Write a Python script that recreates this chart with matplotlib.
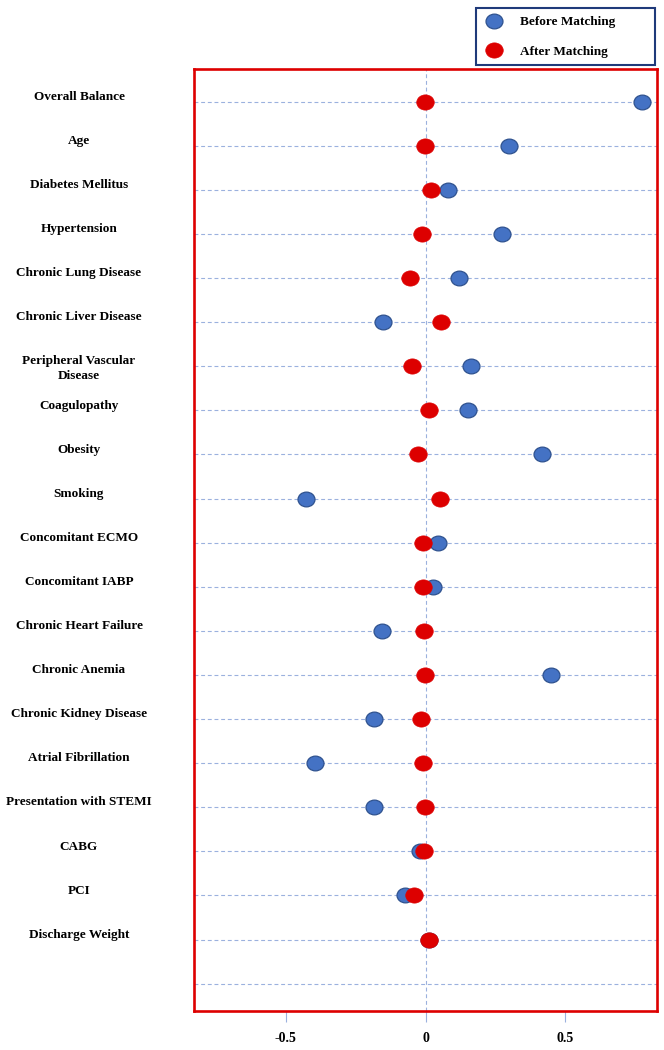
import numpy as np
from matplotlib import pyplot as plt
from matplotlib.path import Path
from matplotlib.transforms import Affine2D, blended_transform_factory

# covariates, top to bottom
categories = ['Overall Balance', 'Age', 'Diabetes Mellitus', 'Hypertension',
              'Chronic Lung Disease', 'Chronic Liver Disease',
              'Peripheral Vascular\nDisease', 'Coagulopathy', 'Obesity', 'Smoking',
              'Concomitant ECMO', 'Concomitant IABP', 'Chronic Heart Failure',
              'Chronic Anemia', 'Chronic Kidney Disease', 'Atrial Fibrillation',
              'Presentation with STEMI', 'CABG', 'PCI', 'Discharge Weight']

# standardized differences
before_matching = [0.772, 0.298, 0.080, 0.273, 0.119, -0.153, 0.163, 0.151, 0.415, -0.428,
                   0.046, 0.026, -0.155, 0.448, -0.183, -0.396, -0.183, -0.021, -0.074, 0.011]
after_matching = [-0.003, -0.003, 0.020, -0.013, -0.054, 0.054, -0.047, 0.014, -0.026, 0.051,
                  -0.010, -0.009, -0.006, -0.002, -0.016, -0.009, -0.002, -0.006, -0.042, 0.014]

xtick_values = [-0.5, 0, 0.5]
xtick_labels = ['-0.5', '0', '0.5']

FONT = ['Liberation Serif', 'DejaVu Serif']
BLUE = '#4472C4'
BLUE_EDGE = '#2F528F'
RED = '#DD0000'
GRID = '#9BB1DE'


def ellipse_marker(ratio=0.87):
    #slightly flattened circle, like the shapes in the original
    return Path.unit_circle().transformed(Affine2D().scale(1.0, ratio))


def main():
    plt.rcParams['font.family'] = FONT
    plt.rcParams['font.weight'] = 'bold'

    fig = plt.figure(figsize=(6.64, 10.5), dpi=100)
    W, H = 664.0, 1050.0
    ax = fig.add_axes([194 / W, 1 - 1011 / H, (657 - 194) / W, (1011 - 69) / H])

    n = len(categories)
    y = np.arange(n)
    marker = ellipse_marker()

    #dashed row lines (one extra empty row at the bottom) and zero line
    ax.set_yticks(np.arange(n + 1))
    ax.grid(axis='y', color=GRID, linestyle=(0, (3.5, 2.5)), linewidth=0.8)
    ax.axvline(0, color=GRID, linestyle=(0, (3.5, 2.5)), linewidth=0.8, zorder=1)
    ax.tick_params(axis='y', left=False, labelleft=False)

    ax.plot(before_matching, y, linestyle='none', marker=marker, ms=12.2,
            mfc=BLUE, mec=BLUE_EDGE, mew=0.9, label='Before Matching', zorder=3)
    ax.plot(after_matching, y, linestyle='none', marker=marker, ms=12.6,
            mfc=RED, mec=RED, mew=0.5, label='After Matching', zorder=4)

    ax.set_xlim(-0.827, 0.827)
    ax.set_ylim(20.62, -0.74)

    ax.set_xticks(xtick_values)
    ax.set_xticklabels(xtick_labels, fontsize=10, fontweight='bold')
    ax.tick_params(axis='x', direction='out', length=8, width=0.8, color=GRID, pad=7)

    for side in ['left', 'right', 'top', 'bottom']:
        ax.spines[side].set_color(RED)
        ax.spines[side].set_linewidth(1.9)

    #category names to the left of the box, first line just above the row line
    trans = blended_transform_factory(fig.transFigure, ax.transData)
    for i, name in enumerate(categories):
        ax.text(79 / W, i - 0.245, name, transform=trans, ha='center', va='top',
                fontsize=9.5, fontweight='bold', linespacing=1.3, clip_on=False)

    handles, labels = ax.get_legend_handles_labels()
    leg = fig.legend(handles, labels, loc='upper left',
                     bbox_to_anchor=(476 / W, 1 - 63 / H, (655 - 476) / W, 55 / H),
                     mode='expand', borderaxespad=0, fancybox=False, framealpha=1,
                     edgecolor='#1F3A7A', borderpad=0.6, handlelength=1.47,
                     handletextpad=1.23, labelspacing=1.3,
                     prop={'family': FONT, 'weight': 'bold', 'size': 9.5})
    leg.get_frame().set_linewidth(1.5)

    fig.savefig('out.png', dpi=100)


if __name__ == '__main__':
    main()
